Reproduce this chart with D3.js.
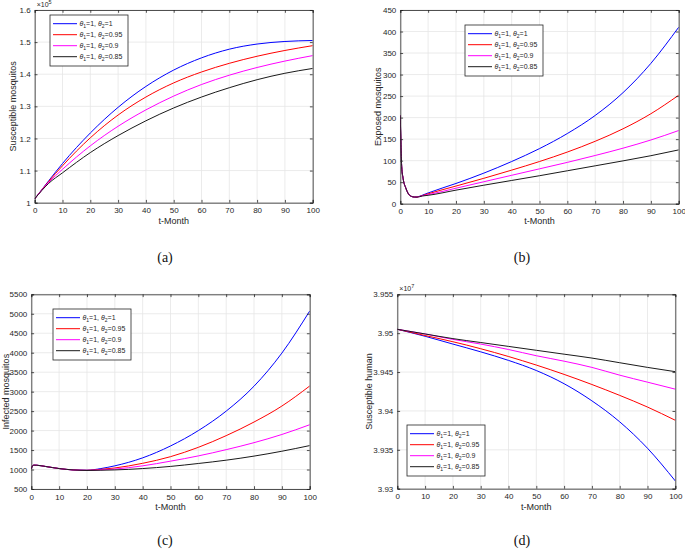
<!DOCTYPE html>
<html><head><meta charset="utf-8">
<script src="https://cdn.jsdelivr.net/npm/d3@7"></script>
<style>
body{margin:0;background:#fff;}
text{font-family:"Liberation Sans",Arial,sans-serif;}
</style></head>
<body><svg id="c" width="685" height="549"></svg>
<script>
// ---------- data ----------
const theta2Labels = ["1","0.95","0.9","0.85"];
const colors = ["#0000ff","#ff0000","#ff00ff","#1a1a1a"];
const xTicks = [0,10,20,30,40,50,60,70,80,90,100];

// (a) Susceptible mosquitos (x10^5)
const tA = [0,5,10,20,30,40,50,60,70,80,90,100];
const aBlue = [1.012,1.068,1.122,1.217,1.297,1.362,1.413,1.451,1.478,1.494,1.502,1.505];
const aRed  = [1.012,1.066,1.115,1.202,1.273,1.329,1.373,1.407,1.434,1.456,1.474,1.489];
const aMag  = [1.012,1.063,1.104,1.177,1.238,1.289,1.332,1.368,1.397,1.421,1.441,1.458];
const aBlk  = [1.012,1.060,1.093,1.156,1.209,1.255,1.295,1.329,1.358,1.383,1.403,1.418];
const aTicks = [1,1.1,1.2,1.3,1.4,1.5,1.6];

// (b) Exposed mosquitos
const tB = [0,0.25,0.5,1,2,3,4,5,6,8,10,20,30,40,50,60,70,80,90,100];
const bBlue = [205,130,86,59,36,22,17,15.5,15.8,20,25,47,71,98,128,163,205,258,326,410];
const bRed  = [205,130,86,59,36,22,17,15.5,15.6,19,23,41,59,78,98,120,145,174,209,252];
const bMag  = [205,130,86,59,36,22,17,15.5,15.4,18.5,21,36,51,66,81,96,112,129,148,170];
const bBlk  = [205,130,86,59,36,22,17,15.5,15.2,18,19.5,31.5,43,54,65,76.5,88,99.5,111.5,125];
const bTicks = [0,50,100,150,200,250,300,350,400,450];

// (c) Infected mosquitos
const tC = [0,0.5,1,2,5,10,15,20,25,30,40,50,60,70,80,90,100];
const cBlue = [1020,1100,1112,1110,1080,1025,990,982,1025,1095,1300,1605,2000,2500,3140,3990,5070];
const cRed  = [1020,1100,1112,1110,1080,1025,990,980,1005,1040,1160,1330,1570,1870,2220,2630,3145];
const cMag  = [1020,1100,1112,1110,1080,1025,990,978,992,1012,1095,1215,1350,1510,1690,1900,2150];
const cBlk  = [1020,1100,1112,1110,1080,1025,990,976,982,990,1025,1080,1155,1240,1345,1470,1615];
const cTicks = [500,1000,1500,2000,2500,3000,3500,4000,4500,5000,5500];

// (d) Susceptible human (x10^7)
const tD = [0,10,20,30,40,50,60,70,80,90,100];
const dBlue = [3.9505,3.9496,3.9486,3.9476,3.9465,3.9452,3.9435,3.9413,3.9386,3.9352,3.9310];
const dRed  = [3.9505,3.9497,3.9489,3.9480,3.9470,3.9459,3.9447,3.9434,3.9420,3.9405,3.9388];
const dMag  = [3.9505,3.9499,3.9492,3.9486,3.9479,3.9471,3.9464,3.9456,3.9446,3.9437,3.9428];
const dBlk  = [3.9505,3.9499,3.9493,3.9488,3.9483,3.9478,3.9473,3.9468,3.9462,3.9456,3.94505];
const dTicks = [3.93,3.935,3.94,3.945,3.95,3.955];

// ---------- drawing ----------
const svg = d3.select("#c");
const panels = [
  {t:tA, ys:[aBlue,aRed,aMag,aBlk], yd:[1,1.6], yt:aTicks, fmt:d=>String(+d.toFixed(1)),
   box:[34.7,312.7,10,202.7], ylab:"Susceptible mosquitos", ylx:13, exp:"5",
   leg:[50,15], cap:"(a)", capx:165, capy:262, xly:224},
  {t:tB, ys:[bBlue,bRed,bMag,bBlk], yd:[0,450], yt:bTicks, fmt:d=>String(d),
   box:[400.3,678.7,10,203.7], ylab:"Exposed mosquitos", ylx:378, exp:null,
   leg:[465,25], cap:"(b)", capx:522, capy:262, xly:224},
  {t:tC, ys:[cBlue,cRed,cMag,cBlk], yd:[500,5500], yt:cTicks, fmt:d=>String(d),
   box:[31.3,309.7,294.3,489], ylab:"Infected mosquitos", ylx:6, exp:null,
   leg:[53,309], cap:"(c)", capx:165, capy:545, xly:510},
  {t:tD, ys:[dBlue,dRed,dMag,dBlk], yd:[3.93,3.955], yt:dTicks, fmt:d=>String(+d.toFixed(3)),
   box:[397.3,675.3,294.3,488.7], ylab:"Susceptible human", ylx:369, exp:"7",
   leg:[407,425], cap:"(d)", capx:522, capy:545, xly:510}
];

const axisCol = "#262626", gridCol = "#e6e6e6";

panels.forEach(p=>{
  const [x0,x1,y0,y1] = p.box;
  const x = d3.scaleLinear().domain([0,100]).range([x0,x1]);
  const y = d3.scaleLinear().domain(p.yd).range([y1,y0]);
  const g = svg.append("g");
  g.selectAll(null).data(xTicks).enter().append("line")
    .attr("x1",d=>x(d)).attr("x2",d=>x(d)).attr("y1",y0).attr("y2",y1)
    .attr("stroke",gridCol).attr("stroke-width",0.8);
  g.selectAll(null).data(p.yt).enter().append("line")
    .attr("y1",d=>y(d)).attr("y2",d=>y(d)).attr("x1",x0).attr("x2",x1)
    .attr("stroke",gridCol).attr("stroke-width",0.8);
  const clipId = "clip"+p.cap.replace(/\W/g,"");
  svg.append("clipPath").attr("id",clipId).append("rect")
    .attr("x",x0).attr("y",y0).attr("width",x1-x0).attr("height",y1-y0);
  const line = d3.line().x(d=>x(d[0])).y(d=>y(d[1])).curve(d3.curveMonotoneX);
  p.ys.forEach((vals,i)=>{
    g.append("path").datum(p.t.map((tt,j)=>[tt,vals[j]]))
      .attr("d",line).attr("fill","none").attr("stroke",colors[i])
      .attr("stroke-width",1).attr("clip-path",`url(#${clipId})`);
  });
  const tl = 2.8;
  const ax = g.append("g").attr("transform",`translate(0,${y1})`)
    .call(d3.axisBottom(x).tickValues(xTicks).tickSize(-tl).tickPadding(5).tickFormat(d3.format("d")));
  const ay = g.append("g").attr("transform",`translate(${x0},0)`)
    .call(d3.axisLeft(y).tickValues(p.yt).tickSize(-tl).tickPadding(4).tickFormat(p.fmt));
  const axt = g.append("g").attr("transform",`translate(0,${y0})`)
    .call(d3.axisTop(x).tickValues(xTicks).tickSize(-tl).tickFormat(""));
  const ayr = g.append("g").attr("transform",`translate(${x1},0)`)
    .call(d3.axisRight(y).tickValues(p.yt).tickSize(-tl).tickFormat(""));
  [ax,ay,axt,ayr].forEach(a=>{
    a.selectAll("path").attr("stroke",axisCol).attr("stroke-width",0.8);
    a.selectAll("line").attr("stroke",axisCol).attr("stroke-width",0.8);
    a.selectAll("text").attr("fill",axisCol).style("font-size","8px")
      .style("font-family","'Liberation Sans',Arial,sans-serif");
  });
  g.append("text").attr("x",(x0+x1)/2).attr("y",p.xly).attr("text-anchor","middle")
    .attr("fill",axisCol).style("font-size","9px").text("t-Month");
  g.append("text").attr("transform",`translate(${p.ylx},${(y0+y1)/2}) rotate(-90)`)
    .attr("text-anchor","middle").attr("dominant-baseline","central")
    .attr("fill",axisCol).style("font-size","9px").text(p.ylab);
  if(p.exp){
    const e = g.append("text").attr("x",x0+2).attr("y",y0-3).attr("fill",axisCol).style("font-size","7px");
    e.append("tspan").text("×10");
    e.append("tspan").attr("dy",-3).style("font-size","5.5px").text(p.exp);
  }
  const [lx,ly] = p.leg, lw=78, lh=51;
  const lg = g.append("g").attr("transform",`translate(${lx},${ly})`);
  lg.append("rect").attr("width",lw).attr("height",lh).attr("fill","#fff")
    .attr("stroke",axisCol).attr("stroke-width",0.8);
  theta2Labels.forEach((lab,i)=>{
    const yy = 8.7 + i*11;
    lg.append("line").attr("x1",3).attr("x2",27).attr("y1",yy).attr("y2",yy)
      .attr("stroke",colors[i]).attr("stroke-width",1);
    const t = lg.append("text").attr("x",29.5).attr("y",yy+2.4).attr("fill",axisCol).style("font-size","7px");
    t.append("tspan").style("font-style","italic").text("θ");
    t.append("tspan").attr("dy",1.6).style("font-size","5px").text("1");
    t.append("tspan").attr("dy",-1.6).text("=1, ");
    t.append("tspan").style("font-style","italic").text("θ");
    t.append("tspan").attr("dy",1.6).style("font-size","5px").text("2");
    t.append("tspan").attr("dy",-1.6).text("="+lab);
  });
  svg.append("text").attr("x",p.capx).attr("y",p.capy).attr("text-anchor","middle")
    .style("font-family","'Liberation Serif','Times New Roman',serif").style("font-size","14px")
    .attr("fill","#111").text(p.cap);
});
</script></body></html>
